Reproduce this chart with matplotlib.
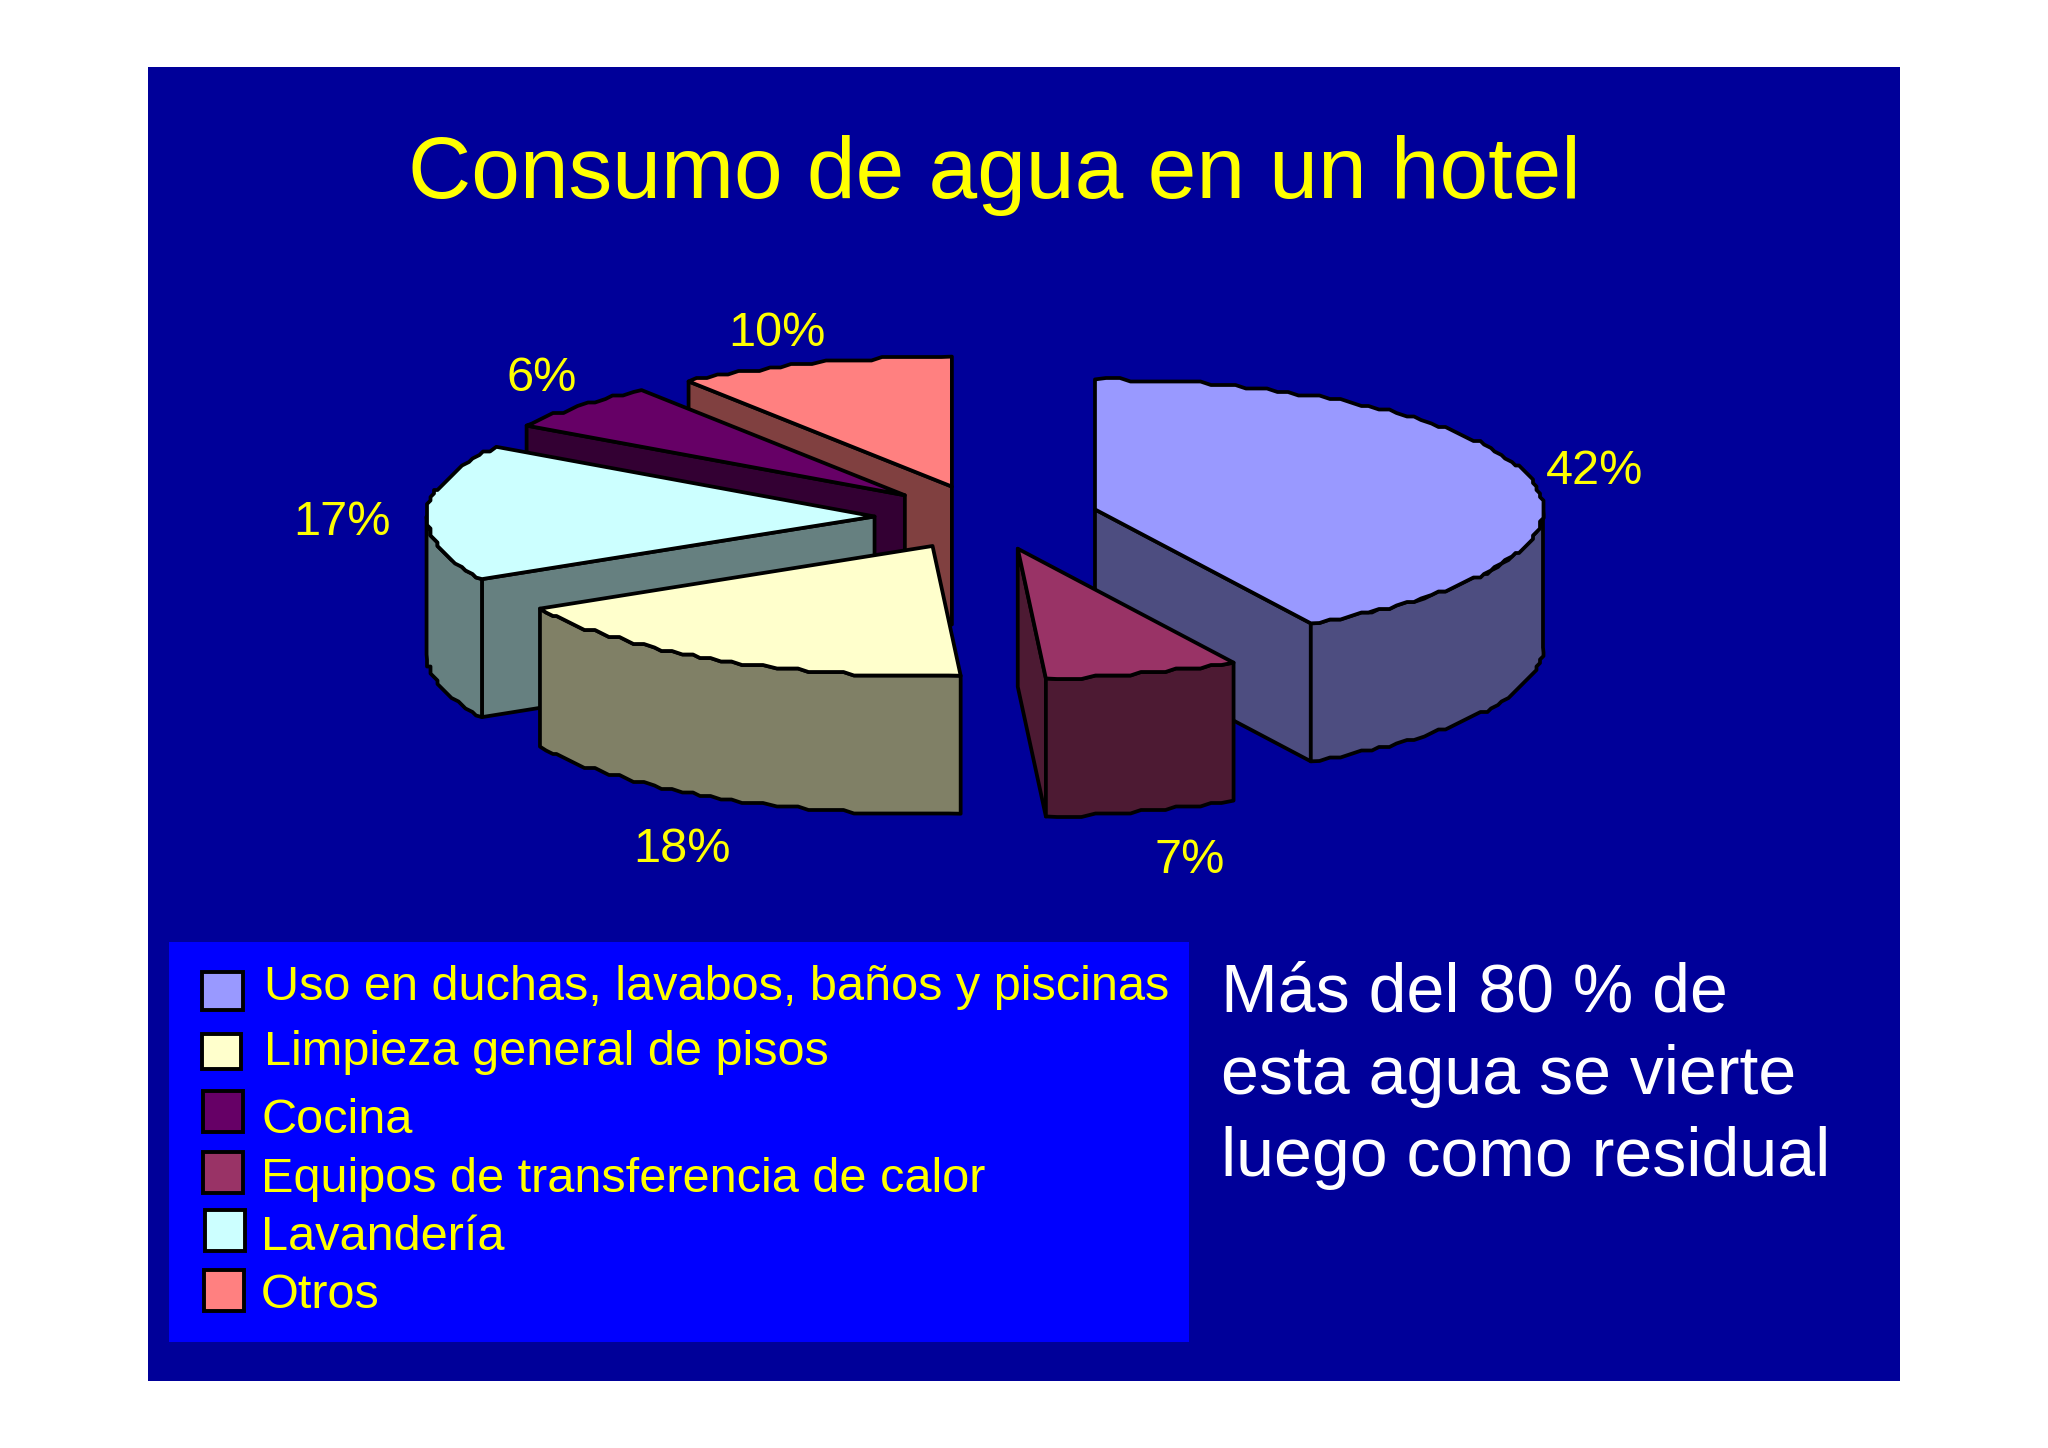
import numpy as np
import matplotlib
matplotlib.use("Agg")
import matplotlib.pyplot as plt
from matplotlib.patches import Polygon, Rectangle

plt.rcParams['font.family'] = ['Liberation Sans', 'DejaVu Sans']

# Data, in pie order (clockwise from 12 o'clock)
categories = ["Uso en duchas, lavabos, baños y piscinas", "Equipos de transferencia de calor",
              "Limpieza general de pisos", "Lavandería", "Cocina", "Otros"]
values = [42, 7, 18, 17, 6, 10]
top_colors = ["#9999FF", "#993366", "#FFFFCC", "#CCFFFF", "#660066", "#FF8080"]
side_colors = ["#4D4D80", "#4D1A33", "#808066", "#668080", "#330033", "#804040"]
legend_order = [0, 2, 4, 1, 3, 5]
title = "Consumo de agua en un hotel"
note_lines = ["Más del 80 % de", "esta agua se vierte", "luego como residual"]

# Layout (pixels)
CX, CY, RX, RY, DEPTH, EXPLODE = 986.5, 517.5, 448, 130, 138, 0.25
label_pos = [(1595, 484), (1190, 873), (682, 862), (342, 535), (542, 391), (777, 346)]
legend_text_pos = [(264, 1000), (264, 1065), (261, 1133), (261, 1192), (261, 1250), (261, 1308)]
legend_boxes = [(202, 972, 41, 38), (202, 1034, 39, 35), (203, 1091, 40, 41),
                (203, 1152, 40, 41), (205, 1210, 40, 41), (204, 1270, 40, 41)]
note_base = [1012, 1094, 1176]

fig = plt.figure(figsize=(20.48, 14.48), dpi=100, facecolor="white")
ax = fig.add_axes([0, 0, 1, 1])
ax.set_xlim(0, 2048)
ax.set_ylim(1448, 0)
ax.axis("off")

ax.add_patch(Rectangle((148, 67), 1752, 1314, fc="#000099", ec="none", zorder=0))
ax.add_patch(Rectangle((169, 942), 1020, 400, fc="#0000FF", ec="none", zorder=0))


def rim(t_deg, ax0, ay0):
    t = np.radians(t_deg)
    return ax0 + RX * np.sin(t), ay0 - RY * np.cos(t)


def arc(a, b, ax0, ay0):
    n = max(int(abs(b - a) / 1.5), 2)
    t = np.linspace(a, b, n + 1)
    x, y = rim(t, ax0, ay0)
    # wobbly outline of the low-resolution source: snap to a coarse grid, keep the exact ends
    xs = np.round(x / 3.5) * 3.5
    ys = np.round(y / 3.5) * 3.5
    xs[0], ys[0], xs[-1], ys[-1] = x[0], y[0], x[-1], y[-1]
    return np.column_stack([xs, ys])


fr = np.array(values, float) / sum(values)
edges = np.concatenate([[0], np.cumsum(fr)]) * 360
mids = (edges[:-1] + edges[1:]) / 2
order = np.argsort(-np.cos(np.radians(mids)))
EC = dict(ec="black", lw=2.7, joinstyle="round")
z = 2
for i in order:
    a, b, m = edges[i], edges[i + 1], mids[i]
    ax0 = CX + EXPLODE * RX * np.sin(np.radians(m))
    ay0 = CY - EXPLODE * RY * np.cos(np.radians(m))
    mx, my = rim(m, 0, 0)
    for t in (a, b):
        px, py = rim(t, 0, 0)
        c_down = px  # cross(P, (0,1))
        c_mid = px * my - py * mx
        if c_down * c_mid < 0:
            q = [(ax0, ay0), (ax0 + px, ay0 + py), (ax0 + px, ay0 + py + DEPTH), (ax0, ay0 + DEPTH)]
            ax.add_patch(Polygon(q, closed=True, fc=side_colors[i], zorder=z, **EC))
            z += 1
    lo, hi = max(a, 90), min(b, 270)
    if hi > lo:
        r = arc(lo, hi, ax0, ay0)
        band = np.vstack([r, (r + [0, DEPTH])[::-1]])
        ax.add_patch(Polygon(band, closed=True, fc=side_colors[i], zorder=z, **EC))
        z += 1
    top = np.vstack([[ax0, ay0], arc(a, b, ax0, ay0)])
    ax.add_patch(Polygon(top, closed=True, fc=top_colors[i], zorder=z, **EC))
    z += 1

for v, (x, y) in zip(values, label_pos):
    ax.text(x, y, f"{v}%", color="#FFFF00", fontsize=35, ha="center", va="baseline", zorder=50)

ax.text(408, 198, title, color="#FFFF00", fontsize=63, ha="left", va="baseline", zorder=50)

for k, i in enumerate(legend_order):
    x, y, w, h = legend_boxes[k]
    ax.add_patch(Rectangle((x, y), w, h, fc=top_colors[i], ec="black", lw=2.8, zorder=40))
    tx, ty = legend_text_pos[k]
    ax.text(tx, ty, categories[i], color="#FFFF00", fontsize=35, ha="left", va="baseline", zorder=50)

for line, y in zip(note_lines, note_base):
    ax.text(1221, y, line, color="white", fontsize=49, ha="left", va="baseline", zorder=50)

fig.savefig("out.png", dpi=100, facecolor="white")
